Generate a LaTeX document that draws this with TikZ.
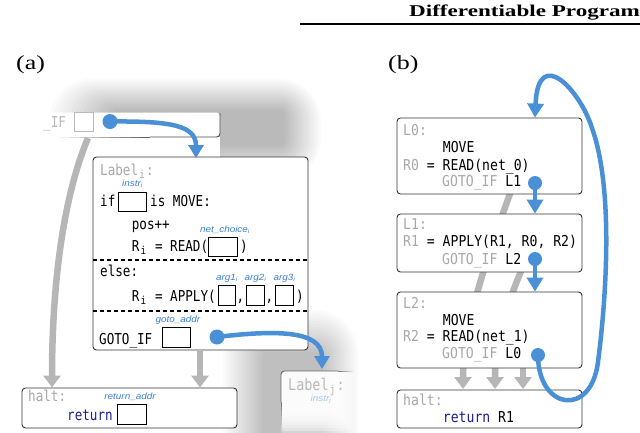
\documentclass[tikz,border=0pt]{standalone}
\usepackage{fontspec}
\setmainfont{Liberation Serif}
\setsansfont{Liberation Sans}
\setmonofont{DejaVu Sans Mono}
\newfontfamily\monoa[FakeStretch=0.84]{DejaVu Sans Mono}
\newfontfamily\monob[FakeStretch=0.875]{DejaVu Sans Mono}
\newfontfamily\plabel[FakeStretch=1.3]{Liberation Serif}
\newfontfamily\hdrfont[FakeStretch=1.4]{Liberation Serif}
\newfontfamily\lblfont[FakeStretch=1.1]{Liberation Sans}
\usetikzlibrary{arrows.meta}
\definecolor{myblue}{RGB}{74,144,214}
\definecolor{lblblue}{RGB}{58,128,208}
\definecolor{gtext}{RGB}{168,168,168}
\definecolor{ltext}{RGB}{185,185,185}
\definecolor{garrow}{RGB}{182,182,182}
\definecolor{navyc}{RGB}{28,32,140}
\newcommand{\subm}[1]{\makebox[8pt][c]{\raisebox{-3pt}{\fontsize{11}{11}\selectfont #1}}}
\begin{document}
\begin{tikzpicture}[x=1pt,y=-1pt,
  codebox/.style={draw=black!80, line width=0.9pt, rounded corners=3.5pt, fill=white, inner sep=0pt},
  ta/.style={font=\fontsize{15}{17}\monoa, inner sep=0pt, anchor=base west},
  tb/.style={font=\fontsize{15}{17}\monob, inner sep=0pt, anchor=base west},
  slot/.style={draw=black, line width=0.9pt, inner sep=0pt, minimum width=#1, minimum height=20pt},
  slot/.default=28pt,
  lbl/.style={font=\fontsize{9}{10}\lblfont\itshape, text=lblblue, inner sep=0pt},
  bdot/.style={circle, fill=myblue, minimum size=#1, inner sep=0pt},
  bdot/.default=15pt,
  barrow/.style={draw=myblue, line width=4.5pt, -{Triangle[width=15pt,length=13pt]}},
  barrowb/.style={draw=myblue, line width=4.5pt, -{Triangle[width=16pt,length=14pt]}},
  garr/.style={draw=garrow, line width=6.5pt, -{Triangle[width=17pt,length=12pt]}},
  dline/.style={line width=1.8pt, dash pattern=on 4.5pt off 2.5pt},
  edgeline/.style={draw=black!70, line width=0.9pt},
]
\useasboundingbox (0,0) rectangle (640,432);
\clip (0,0) rectangle (640,432);

% header
\draw[line width=2.5pt] (300,24) -- (640,24);
\node[anchor=base west, inner sep=0pt, font=\fontsize{16.5}{18}\hdrfont\bfseries] (hdr) at (409,16) {Differentiable Program};
\node[anchor=base west, inner sep=0pt, font=\fontsize{20}{22}\plabel] (pa) at (16,69) {(a)};
\node[anchor=base west, inner sep=0pt, font=\fontsize{20}{22}\plabel] (pb) at (388,69) {(b)};

% ---------- panel (a) ----------
% soft shadows (opaque layered gradient, outermost first)
\foreach \k in {15,...,0}{
  \pgfmathsetmacro\sh{27*(16-\k)/16}
  \pgfmathsetmacro\rc{6+2.5*\k}
  \fill[black!\sh, rounded corners=\rc pt] ({112-4.2*\k},{110-2.1*\k}) rectangle ({285+2.4*\k},{146+2.4*\k});
}
\foreach \k in {15,...,0}{
  \pgfmathsetmacro\sh{25*(16-\k)/16}
  \pgfmathsetmacro\rc{6+2.5*\k}
  \fill[black!\sh, rounded corners=\rc pt] ({262-2.6*\k},{352-2.8*\k}) rectangle ({322+2.4*\k},{445+2.4*\k});
}
% faded top box
\fill[white, rounded corners=3.5pt] (0,112.5) rectangle (220,137);
\fill[white] (0,137) rectangle (220,190);
\draw[edgeline, rounded corners=3.5pt] (150,137) -- (220,137) -- (220,113);
\foreach \i in {0,...,8}{
  \draw[edgeline, opacity={0.08+0.1*\i}] ({60+10*\i},137) -- ({70+10*\i},137);
}
\node[ta, text=ltext] (tif) at (43,127) {\_IF};
\node[slot=19pt, minimum height=19pt, draw=ltext] (s0) at (83.5,121.5) {};
\node[bdot] (d0) at (110,121.5) {};
\coordinate (tbb) at (88,138);

% faded Label_j box
\foreach \k in {0,...,7}{
  \fill[white, opacity=0.33, rounded corners=3.5pt] (281,371) rectangle ({354-2*\k},{434-3*\k});
}
\draw[edgeline, draw=black!60, rounded corners=3.5pt] (281,402) -- (281,371) -- (338,371);
\foreach \i in {0,...,5}{
  \draw[edgeline, draw=black!60, opacity={0.85-0.14*\i}] (281,{402+4.5*\i}) -- (281,{406.5+4.5*\i});
  \draw[edgeline, draw=black!60, opacity={0.85-0.14*\i}] ({338+2.5*\i},371) -- ({340.5+2.5*\i},371);
}
\node[ta, text=ltext, font=\fontsize{16}{18}\monoa] (tlj) at (288,390) {Label\subm{j}:};
\node[lbl, text=lblblue!45] (llj) at (321,399) {instr\textsubscript{j}};
\coordinate (ljtop) at (322,369);

% Label_i box
\node[codebox, minimum width=215pt, minimum height=193pt] (labi) at (200.5,253.5) {};
\draw[dline] (labi.west |- 0,260) -- (labi.east |- 0,260);
\draw[dline] (labi.west |- 0,311) -- (labi.east |- 0,311);
\node[ta, text=gtext] (tli) at (100,175) {Label\subm{i}:};
\node[lbl] (linstr) at (132.5,183.5) {instr\textsubscript{i}};
\node[ta] (tif2) at (100,206.5) {if};
\node[slot, minimum height=19pt] (sinstr) at (132,201.5) {};
\node[ta] (tmove) at (150,206.5) {is MOVE:};
\node[ta] (tpos) at (131.7,229.5) {pos++};
\node[lbl] (lnet) at (225,229.5) {net\_choice\textsubscript{i}};
\node[ta] (tread) at (131.7,251.5) {R\subm{i} = READ(};
\node[slot=29pt, minimum height=19pt] (sread) at (222.5,246.5) {};
\node[ta, anchor=base] (trp1) at (244,251.5) {)};
\node[ta] (telse) at (100,276.5) {else:};
\node[lbl] (la1) at (227,278.5) {arg1\textsubscript{i}};
\node[lbl] (la2) at (255.5,278.5) {arg2\textsubscript{i}};
\node[lbl] (la3) at (284.5,278.5) {arg3\textsubscript{i}};
\node[ta] (tapply) at (131.7,301.5) {R\subm{i} = APPLY(};
\node[slot=17pt] (sa1) at (226.5,295) {};
\node[slot=18pt] (sa2) at (255,295) {};
\node[slot=18pt] (sa3) at (284,295) {};
\node[ta, anchor=base] (tc1) at (240.5,301.5) {,};
\node[ta, anchor=base] (tc2) at (269.5,301.5) {,};
\node[ta, anchor=base] (trp2) at (300,301.5) {)};
\node[lbl] (lgoto) at (178,320.5) {goto\_addr};
\node[ta] (tgoto) at (99,344) {GOTO\_IF};
\node[slot] (sgoto) at (176,337) {};
\node[bdot] (dgoto) at (217,337) {};

% halt box (a)
\node[codebox, minimum width=215pt, minimum height=40pt] (haltA) at (129.5,408) {};
\node[ta, text=gtext] (thA) at (28,401.5) {halt:};
\node[lbl] (lret) at (130,397) {return\_addr};
\node[ta, text=navyc] (tretA) at (67,420) {return};
\node[slot=29pt] (sret) at (131.5,414) {};

% gray connectors (a)
\draw[garr] (tbb) .. controls (62,200) and (52,290) .. (52,0 |- haltA.north);
\draw[garr] (200,0 |- labi.south) -- (200,0 |- haltA.north);

% blue connectors (a)
\draw[barrow] (d0.center) .. controls (170,121) and (196,125) .. (196,158);
\draw[barrow] (dgoto.center) .. controls (275,330) and (322,330) .. (ljtop);

% ---------- panel (b) ----------
\coordinate (gA) at (515,180);
\coordinate (gAe) at (463,389);
\coordinate (gB) at (530,250);
\coordinate (gBe) at (495,389);
\coordinate (gC) at (523,368);
\coordinate (gCe) at (523,389);
\draw[garr] (gA) .. controls (495,235) and (463,320) .. (gAe);
\draw[garr] (gB) .. controls (515,285) and (495,330) .. (gBe);
\draw[garr] (gC) -- (gCe);

\node[codebox, minimum width=185pt, minimum height=76pt] (L0) at (489.5,156) {};
\node[codebox, minimum width=185pt, minimum height=58pt] (L1) at (489.5,243) {};
\node[codebox, minimum width=185pt, minimum height=76pt] (L2) at (489.5,330) {};
\node[codebox, minimum width=185pt, minimum height=38pt] (haltB) at (489.5,409) {};

\node[tb, text=gtext] (l0a) at (403,135) {L0:};
\node[tb] (l0b) at (442.7,152.5) {MOVE};
\node[tb] (l0c) at (403,170) {\textcolor{gtext}{R0} = READ(net\_0)};
\node[tb] (l0d) at (442,186.7) {\textcolor{gtext}{GOTO\_IF} L1};
\node[bdot=14pt] (d0b) at (535,183) {};

\node[tb, text=gtext] (l1a) at (403,229.5) {L1:};
\node[tb] (l1b) at (403,246.7) {\textcolor{gtext}{R1} = APPLY(R1, R0, R2)};
\node[tb] (l1c) at (442,264) {\textcolor{gtext}{GOTO\_IF} L2};
\node[bdot=14pt] (d1b) at (535,259) {};

\node[tb, text=gtext] (l2a) at (403,308) {L2:};
\node[tb] (l2b) at (442.7,325) {MOVE};
\node[tb] (l2c) at (403,341) {\textcolor{gtext}{R2} = READ(net\_1)};
\node[tb] (l2d) at (442,358) {\textcolor{gtext}{GOTO\_IF} L0};
\node[bdot=14pt] (d2b) at (538,355) {};

\node[tb, text=gtext] (hb1) at (403,405) {halt:};
\node[tb] (hb2) at (442.7,422) {\textcolor{navyc}{return} R1};

\draw[barrowb] (d0b.center) -- (535,0 |- L1.north);
\draw[barrowb] (d1b.center) -- (535,0 |- L2.north);
\draw[barrowb] (d2b.center) .. controls (538,410) and (591,418) .. (598,362)
   .. controls (606,300) and (614,190) .. (592,128)
   .. controls (580,90) and (538,45) .. (535,0 |- L0.north);
\end{tikzpicture}
\end{document}
